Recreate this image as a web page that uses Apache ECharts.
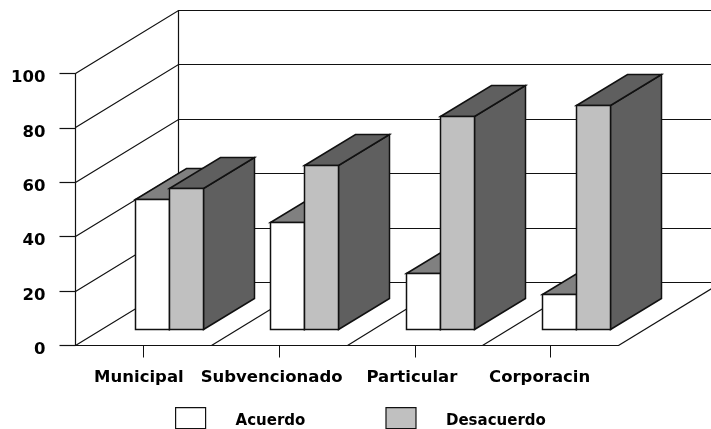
<!DOCTYPE html>
<html>
<head>
<meta charset="utf-8">
<style>html,body{margin:0;padding:0;background:#fff}#chart{width:711px;height:429px}</style>
<script src="https://cdn.jsdelivr.net/npm/echarts@6/dist/echarts.min.js"></script>
</head>
<body>
<div id="chart"></div>
<script>
// Opinion by school type, drawn as a 3D-style clustered column chart.
const categories = ['Municipal', 'Subvencionado', 'Particular', 'Corporacin'];
const acuerdo = [48, 39.5, 20.5, 13];
const desacuerdo = [52, 60.5, 78.5, 82.5];
const yTicks = [0, 20, 40, 60, 80, 100];
const labelShift = [9, 15, 6, 22];

const INK = '#111111';
const FONT = '"DejaVu Sans"';
const crisp = v => Math.round(v - 0.5) + 0.5;

// Oblique projection: floor depth as a share of one category band and of plot height.
function depthOf(api) {
  return { x: api.size([1, 0])[0] * 0.7585, y: api.size([0, 100])[1] * 0.2316 };
}
function line(points) {
  return {
    type: 'polyline',
    shape: { points: points.map(p => [crisp(p[0]), crisp(p[1])]) },
    style: { fill: null, stroke: INK, lineWidth: 1.2 },
    silent: true
  };
}

// Left and back walls: one bent gridline per tick.
function renderGrid(params, api) {
  const d = depthOf(api);
  const p = api.coord([0, api.value(1)]);
  const x0 = params.coordSys.x;
  const x1 = x0 + params.coordSys.width;
  return line([[x0, p[1]], [x0 + d.x, p[1] - d.y], [x1 + d.x, p[1] - d.y]]);
}

// Floor: back wall edge, right floor edge and the dividers between categories.
function renderFloor(params, api) {
  const d = depthOf(api);
  const x0 = params.coordSys.x;
  const yBase = api.coord([0, 0])[1];
  const yTop = api.coord([0, 100])[1];
  const children = [line([[x0 + d.x, yTop - d.y], [x0 + d.x, yBase - d.y]])];
  const band = api.size([1, 0])[0];
  for (let i = 1; i <= categories.length; i++) {
    const x = x0 + band * i;
    children.push(line([[x, yBase], [x + d.x, yBase - d.y]]));
  }
  return { type: 'group', children };
}

// One column: front face, top face and right side, set halfway into the floor depth.
function columnRenderer(slot, frontColor, topColor, sideColor) {
  return function (params, api) {
    const d = depthOf(api);
    const band = api.size([1, 0])[0];
    const i = api.value(0);
    const base = api.coord([i, 0]);
    const top = api.coord([i, api.value(1)]);
    const w = band / 4;
    const xl = crisp(base[0] - band / 4 + d.x / 4 + slot * w);
    const xr = crisp(base[0] - band / 4 + d.x / 4 + (slot + 1) * w);
    const yb = crisp(base[1] - d.y / 4);
    const yt = crisp(top[1] - d.y / 4);
    const dx = Math.round(d.x / 2);
    const dy = Math.round(d.y / 2);
    const face = (pts, fill) => ({
      type: 'polygon',
      shape: { points: pts },
      style: { fill, stroke: INK, lineWidth: 1.5, lineJoin: 'miter' }
    });
    return {
      type: 'group',
      children: [
        face([[xr, yb], [xr + dx, yb - dy], [xr + dx, yt - dy], [xr, yt]], sideColor),
        face([[xl, yt], [xl + dx, yt - dy], [xr + dx, yt - dy], [xr, yt]], topColor),
        face([[xl, yb], [xl, yt], [xr, yt], [xr, yb]], frontColor)
      ]
    };
  };
}

const axisText = { fontFamily: FONT, fontWeight: 'bold', fontSize: 16.5, color: '#000' };
const legendText = { fontFamily: FONT, fontWeight: 'bold', fontSize: 15, color: '#000' };

const chart = echarts.init(document.getElementById('chart'), null, { renderer: 'canvas' });
chart.setOption({
  animation: false,
  backgroundColor: '#fff',
  grid: { left: 75.5, right: 92.5, top: 73.5, height: 272 },
  legend: {
    left: 175,
    top: 407,
    padding: 0,
    itemWidth: 30,
    itemHeight: 21,
    itemGap: 80,
    selectedMode: false,
    icon: 'rect',
    formatter: '{t|{name}}',
    textStyle: {
      ...legendText,
      padding: [0, 0, 0, 25],
      rich: { t: { ...legendText, padding: [7, 0, 0, 0] } }
    },
    data: [
      { name: 'Acuerdo', itemStyle: { color: '#fff', borderColor: INK, borderWidth: 1.2 } },
      { name: 'Desacuerdo', itemStyle: { color: '#c0c0c0', borderColor: INK, borderWidth: 1.2 } }
    ]
  },
  xAxis: {
    type: 'category',
    data: categories.map((c, i) => ({
      value: c,
      textStyle: { padding: [0, labelShift[i], 0, 0] }
    })),
    boundaryGap: true,
    axisLine: { lineStyle: { color: INK, width: 1.2 } },
    axisTick: { show: true, alignWithLabel: true, length: 12, lineStyle: { color: INK, width: 1 } },
    axisLabel: { ...axisText, interval: 0, margin: 24, hideOverlap: false }
  },
  yAxis: {
    type: 'value',
    min: 0,
    max: 100,
    interval: 20,
    splitLine: { show: false },
    axisLine: { show: true, lineStyle: { color: INK, width: 1.2 } },
    axisTick: { show: true, length: 16, lineStyle: { color: INK, width: 1.2 } },
    axisLabel: { ...axisText, margin: 30, verticalAlign: 'top', lineHeight: 9 }
  },
  series: [
    {
      type: 'custom',
      silent: true,
      z: 1,
      renderItem: renderGrid,
      encode: { x: 0, y: 1 },
      data: yTicks.map(t => [0, t])
    },
    {
      type: 'custom',
      silent: true,
      z: 1,
      renderItem: renderFloor,
      encode: { x: 0, y: 1 },
      data: [[0, 0]]
    },
    {
      name: 'Acuerdo',
      type: 'custom',
      z: 2,
      itemStyle: { color: '#fff' },
      renderItem: columnRenderer(0, '#ffffff', '#808080', '#5f5f5f'),
      encode: { x: 0, y: 1 },
      data: acuerdo.map((v, i) => [i, v])
    },
    {
      name: 'Desacuerdo',
      type: 'custom',
      z: 3,
      itemStyle: { color: '#c0c0c0' },
      renderItem: columnRenderer(1, '#c0c0c0', '#5f5f5f', '#5f5f5f'),
      encode: { x: 0, y: 1 },
      data: desacuerdo.map((v, i) => [i, v])
    }
  ]
});
</script>
</body>
</html>
